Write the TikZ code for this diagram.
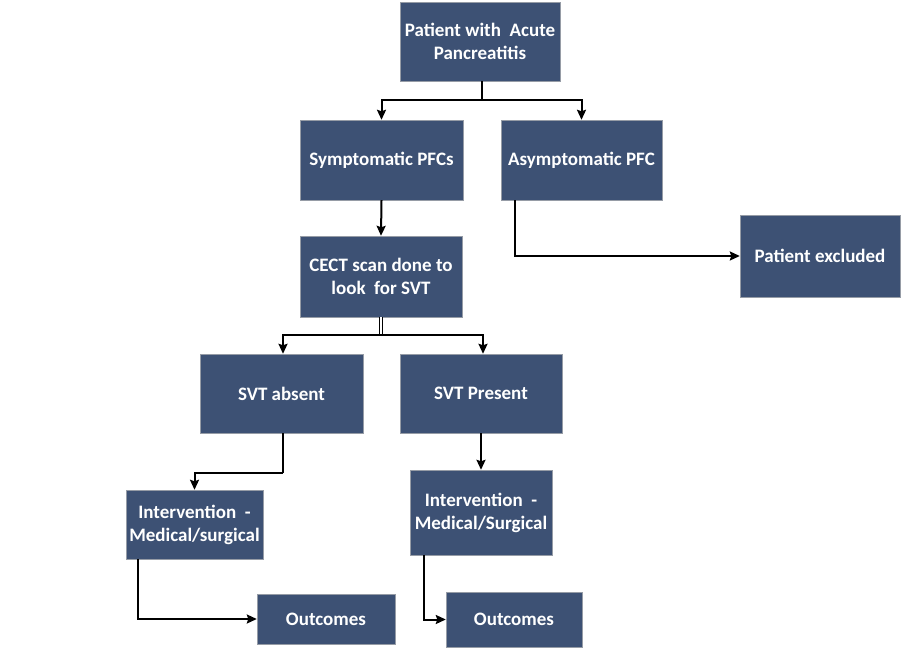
\documentclass[tikz,border=0pt]{standalone}
\usepackage{fontspec}
\setmainfont{Carlito}
\usepackage{tikz}
\usetikzlibrary{arrows, arrows.meta, positioning, calc}
\definecolor{boxblue}{RGB}{61,81,116}
\definecolor{boxedge}{RGB}{150,156,166}
\tikzset{
	bluebox/.style={draw=boxedge, fill=boxblue, text=white, align=center,
		font=\fontsize{19}{23}\selectfont\bfseries, inner sep=2pt}
}
\tikzset{
	flowline/.style={line width=2pt, black}
}

\begin{document}
\begin{tikzpicture}[>={Stealth[length=10pt, width=9pt, inset=1.5pt]}, x=1pt, y=-1pt]
      \useasboundingbox (0,0) rectangle (904,650);

      \node[bluebox, minimum width=160pt, minimum height=79pt] (pat) at (480,41.5) {Patient with\ \ Acute\\Pancreatitis};
      \node[bluebox, minimum width=163pt, minimum height=80pt] (sym) at (381.5,160) {Symptomatic PFCs};
      \node[bluebox, minimum width=161pt, minimum height=80pt] (asym) at (581.5,160) {Asymptomatic PFC};
      \node[bluebox, minimum width=160pt, minimum height=82pt] (excl) at (820,256) {Patient excluded};
      \node[bluebox, minimum width=162pt, minimum height=81pt] (cect) at (381,276.5) {CECT scan done to\\look\ \ for SVT};
      \node[bluebox, minimum width=163pt, minimum height=79pt] (absent) at (281.5,393.5) {SVT absent};
      \node[bluebox, minimum width=162pt, minimum height=79pt] (present) at (481,393.5) {SVT Present};
      \node[bluebox, minimum width=137pt, minimum height=69pt] (intl) at (194.5,524.5) {Intervention\ \ -\\Medical/surgical};
      \node[bluebox, minimum width=142pt, minimum height=85pt] (intr) at (481,512.5) {Intervention\ \ -\\Medical/Surgical};
      \node[bluebox, minimum width=138pt, minimum height=50pt] (outl) at (326,619) {Outcomes};
      \node[bluebox, minimum width=136pt, minimum height=55pt] (outr) at (514,619.5) {Outcomes};

      % first split
      \coordinate (s1) at ($(pat.south)+(2,19)$);
      \draw[flowline] (pat.south -| s1) -- (s1);
      \draw[flowline, ->] (s1) -| (sym.north);
      \draw[flowline, ->] (s1) -| (asym.north);

      % symptomatic goes on to the scan, asymptomatic leaves
      \draw[flowline, ->] (sym.south) -- (cect.north);
      \draw[flowline, ->] ([xshift=14pt]asym.south west) |- (excl.west);

      % second split (double stem)
      \coordinate (s2) at ($(cect.south)+(0,18)$);
      \draw[double, double distance=2pt, line width=1pt] (cect.south) -- (s2);
      \draw[flowline, ->] (s2) -| ([xshift=1.5pt]absent.north);
      \draw[flowline, ->] (s2) -| ([xshift=2pt]present.north);

      % interventions
      \coordinate (bend) at ($(absent.south)+(1.5,40)$);
      \draw[flowline] (absent.south -| bend) -- (bend);
      \draw[flowline, ->] (bend) -| (intl.north);
      \draw[flowline, ->] (present.south) -- (intr.north);

      % outcomes
      \draw[flowline, ->] ([xshift=12pt]intl.south west) |- (outl.west);
      \draw[flowline, ->] ([xshift=14pt]intr.south west) |- (outr.west);
\end{tikzpicture}
\end{document}
